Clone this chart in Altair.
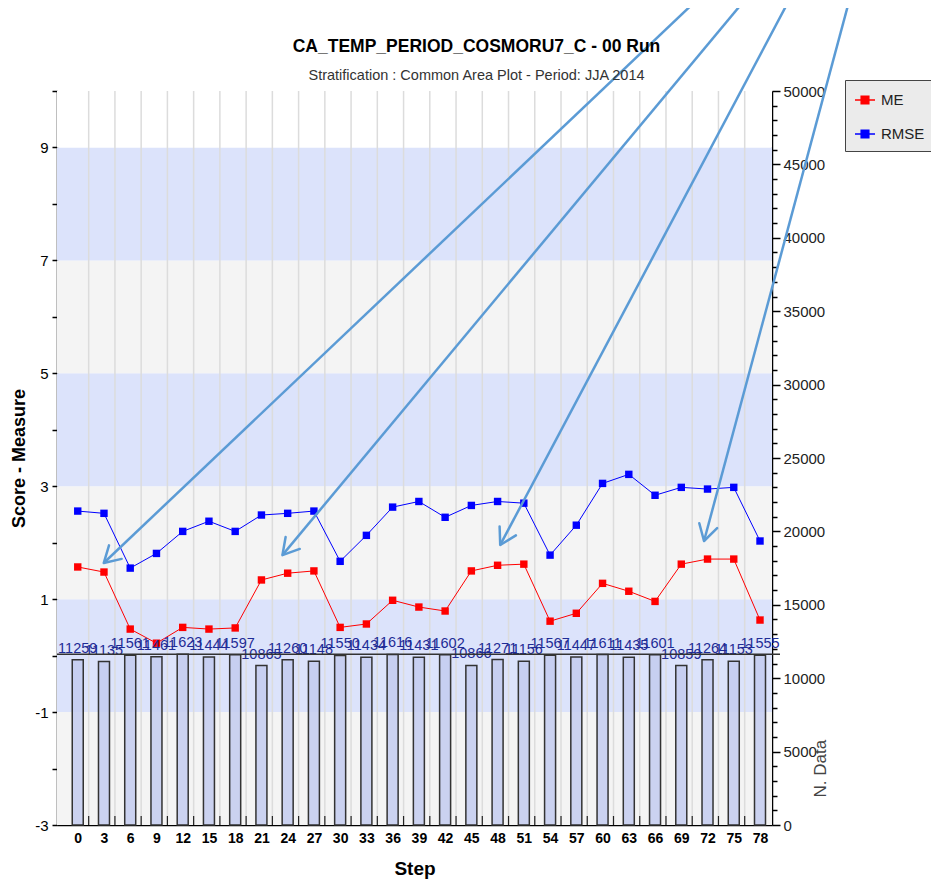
import math
import altair as alt
import pandas as pd

# ---------------- data ----------------
steps = list(range(0, 79, 3))
me = [1.57, 1.48, 0.47, 0.22, 0.50, 0.47, 0.49, 1.34, 1.46, 1.50, 0.50, 0.56, 0.98, 0.86,
      0.79, 1.50, 1.60, 1.62, 0.61, 0.75, 1.28, 1.14, 0.96, 1.62, 1.71, 1.71, 0.63]
rmse = [2.56, 2.52, 1.55, 1.81, 2.20, 2.38, 2.20, 2.49, 2.52, 2.56, 1.67, 2.13, 2.63, 2.73,
        2.45, 2.66, 2.73, 2.70, 1.78, 2.31, 3.05, 3.21, 2.84, 2.98, 2.95, 2.98, 2.03]
ndata = [11259, 11135, 11561, 11461, 11623, 11444, 11597, 10865, 11260, 11148, 11550, 11434,
         11616, 11431, 11602, 10866, 11271, 11156, 11567, 11447, 11611, 11435, 11601, 10859,
         11264, 11153, 11555]

series_names = ["ME", "RMSE"]
series_colors = ["#ff0000", "#0000ff"]

band_lo = [-3, -1, 1, 3, 5, 7, 9]
band_hi = [-1, 1, 3, 5, 7, 9, 10]
band_fill = ["#f4f4f4", "#dce3fb", "#f4f4f4", "#dce3fb", "#f4f4f4", "#dce3fb", "#ffffff"]

grid_x = [1.25 + 3 * k for k in range(26)]

# annotation arrows (start -> tip), in step / score units
arrow_x0 = [70.7, 76.2, 81.3, 88.2]
arrow_y0 = [11.6, 11.6, 11.6, 11.6]
arrow_x1 = [2.97, 23.4, 48.3, 71.6]
arrow_y1 = [1.64, 1.78, 1.96, 2.03]

# ---------------- layout ----------------
W, H = 715, 734
X_DOM = [-1.8, 78.8]
Y_DOM = [-3, 10]
N_DOM = [0, 50000]
ppx = W / (X_DOM[1] - X_DOM[0])
ppy = H / (Y_DOM[1] - Y_DOM[0])

FONT = "Liberation Sans"
NARROW = "Liberation Sans Narrow, Arial Narrow, Liberation Sans"

df_long = pd.DataFrame({
    "step": steps * 2,
    "value": me + rmse,
    "series": ["ME"] * len(steps) + ["RMSE"] * len(steps),
})
df_bars = pd.DataFrame({"step": steps, "n": ndata, "lab": [str(v) for v in ndata]})
df_bands = pd.DataFrame({"lo": band_lo, "hi": band_hi, "fill": band_fill})
df_grid = pd.DataFrame({"gx": grid_x})
angles = []
for a, b, c, d in zip(arrow_x0, arrow_y0, arrow_x1, arrow_y1):
    dx = (c - a) * ppx
    dy = (b - d) * ppy
    angles.append(math.degrees(math.atan2(dy, dx)) % 360)
df_arrows = pd.DataFrame({"x0": arrow_x0, "y0": arrow_y0, "x1": arrow_x1, "y1": arrow_y1,
                          "ang": angles})

xscale = alt.Scale(domain=X_DOM, nice=False, zero=False)
xaxis = alt.Axis(values=steps, title="Step", grid=False, ticks=False, domainColor="#000000",
                 domainWidth=1.5, labelFont=NARROW, labelFontWeight="bold", labelFontSize=14,
                 labelColor="#000000", labelPadding=6, titleFont=FONT, titleFontSize=19,
                 titleFontWeight="bold", titleColor="#000000", titlePadding=14)
yscale = alt.Scale(domain=Y_DOM, nice=False, zero=False)
yaxis = alt.Axis(values=list(range(-3, 11)), title="Score - Measure", grid=False,
                 labelExpr="datum.value % 2 !== 0 ? datum.value : ''",
                 domainColor="#000000", domainWidth=1.5, tickColor="#000000", tickSize=5,
                 tickWidth=1.5, labelFont=NARROW, labelFontSize=15, labelColor="#000000",
                 labelPadding=4, titleFont=FONT, titleFontSize=18, titleFontWeight="bold",
                 titleColor="#000000", titlePadding=6)
nscale = alt.Scale(domain=N_DOM, nice=False, zero=True)
naxis = alt.Axis(orient="right", values=list(range(0, 50001, 1000)), title="N. Data", grid=False,
                 labelExpr="datum.value % 5000 === 0 ? datum.value : ''",
                 tickSize=alt.condition("datum.value % 5000 === 0", alt.value(8), alt.value(5)),
                 tickColor="#000000", tickWidth=1.5, domainColor="#000000", domainWidth=1.5,
                 labelFont=NARROW, labelFontSize=15, labelColor="#222222", labelPadding=3,
                 titleFont=NARROW, titleFontSize=17, titleFontWeight="normal", titleColor="#444444",
                 titleAngle=270, titleX=57, titleY=706, titleAlign="left",
                 titleBaseline="bottom")

X = lambda f: alt.X(f, type="quantitative", scale=xscale, axis=xaxis)
Y = lambda f: alt.Y(f, type="quantitative", scale=yscale, axis=yaxis)

bands = alt.Chart(df_bands).mark_rect().encode(
    x=alt.value(0), x2=alt.value(W), y=Y("lo"), y2="hi",
    fill=alt.Fill("fill:N", scale=None),
)
grid = alt.Chart(df_grid).mark_rule(color="#dcdcdc", strokeWidth=1.5).encode(x=X("gx"))
bticks = alt.Chart(df_grid).mark_rule(color="#222222", strokeWidth=1.2).encode(
    x=X("gx"), y=alt.value(H), y2=alt.value(H - 9))

color = alt.Color("series:N", scale=alt.Scale(domain=series_names, range=series_colors),
                  legend=alt.Legend(title=None, orient="none", legendX=788, legendY=-11,
                                    symbolType="M-1,0L1,0M-0.38,-0.38L0.38,-0.38L0.38,0.38L-0.38,0.38Z",
                                    symbolSize=400, symbolStrokeWidth=1.5,
                                    labelFont=FONT, labelFontSize=15, labelColor="#222222",
                                    fillColor="#ebebeb", strokeColor="#444444", padding=9,
                                    rowPadding=15, labelOffset=5))
lines = alt.Chart(df_long).mark_line(strokeWidth=1).encode(x=X("step"), y=Y("value"), color=color)
points = alt.Chart(df_long).mark_point(shape="square", filled=True, size=55, opacity=1).encode(
    x=X("step"), y=Y("value"), color=color)

arrow_lines = alt.Chart(df_arrows).mark_rule(color="#5b9bd5", strokeWidth=2.5).encode(
    x=X("x0"), y=Y("y0"), x2="x1", y2="y1")
arrow_heads = alt.Chart(df_arrows).mark_point(
    shape="M-0.86,-0.5L0,0L-0.86,0.5", filled=False, size=1369, stroke="#5b9bd5",
    strokeWidth=2.5, opacity=1, strokeCap="round", strokeJoin="round").encode(
    x=X("x1"), y=Y("y1"), angle=alt.Angle("ang:Q", scale=None))

left = alt.layer(bands, grid, bticks, lines, points, arrow_lines, arrow_heads)

NY = lambda f: alt.Y(f, type="quantitative", scale=nscale, axis=naxis)
bars = alt.Chart(df_bars).mark_bar(size=11, fill="#c3cbee", fillOpacity=0.85,
                                   stroke="#333333", strokeWidth=1.5).encode(
    x=X("step"), y=NY("n"))
labels = alt.Chart(df_bars).mark_text(baseline="bottom", dy=-4, font=NARROW, fontSize=14.5,
                                      color="#1f2c96").encode(
    x=X("step"), y=NY("n"), text="lab:N")
toprule = alt.Chart(df_bars).mark_rule(color="#333333", strokeWidth=1.5).encode(
    y=alt.Y("max(n):Q", scale=nscale, axis=naxis), x=alt.value(0), x2=alt.value(W + 8))

right = alt.layer(bars, labels, toprule)

chart = alt.layer(left, right).resolve_scale(y="independent").properties(
    width=W, height=H,
    title=alt.TitleParams(text="CA_TEMP_PERIOD_COSMORU7_C - 00 Run",
                          subtitle="Stratification : Common Area Plot - Period: JJA 2014",
                          font=FONT, fontSize=17.5, fontWeight="bold", color="#000000",
                          subtitleFont=FONT, subtitleFontSize=14.5, subtitleColor="#333333",
                          anchor="middle", dx=62, dy=91, offset=8, subtitlePadding=13),
    autosize=alt.AutoSizeParams(type="none"),
    padding={"left": 49, "top": 83, "right": 159, "bottom": 55},
).configure_view(stroke=None).configure(font=FONT)

chart.save("out.html", embed_options={"renderer": "svg", "actions": False})
